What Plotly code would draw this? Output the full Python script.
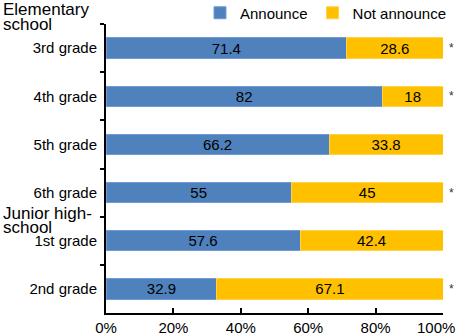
import plotly.graph_objects as go

grades = ["3rd grade", "4th grade", "5th grade", "6th grade", "1st grade", "2nd grade"]
announce = [71.4, 82, 66.2, 55, 57.6, 32.9]
not_announce = [28.6, 18, 33.8, 45, 42.4, 67.1]
significant = [True, True, False, True, False, True]
x_ticks = [0, 20, 40, 60, 80, 100]
x_tick_labels = ["0%", "20%", "40%", "60%", "80%", "100%"]
group_labels = [("Elementary", 9), ("school", 24), ("Junior high-", 213), ("school", 228)]

FONT = "Liberation Sans, Arial, sans-serif"
BLUE = "#4F81BD"
YELLOW = "#FFC000"

W, H = 458, 336
L, R, T, B = 106, 15, 24, 23
PW, PH = W - L - R, H - T - B

def px_x(px):
    return (px - L) / PW

def px_y(py):
    return (H - B - py) / PH

fig = go.Figure()
fig.add_trace(go.Bar(
    y=grades, x=announce, orientation="h", name="Announce",
    marker=dict(color=BLUE, line=dict(color="#6F9BD8", width=1)),
    text=[str(v) for v in announce], textposition="inside", textangle=0,
    insidetextanchor="middle", textfont=dict(color="black", size=15, family=FONT),
))
fig.add_trace(go.Bar(
    y=grades, x=not_announce, orientation="h", name="Not announce",
    marker=dict(color=YELLOW, line=dict(color="#FFD24D", width=1)),
    text=[str(v) for v in not_announce], textposition="inside", textangle=0,
    insidetextanchor="middle", textfont=dict(color="black", size=15, family=FONT),
))

for g, s in zip(grades, significant):
    if s:
        fig.add_annotation(x=1.0, xref="paper", xshift=8, y=g, yref="y",
                           text="*", showarrow=False, xanchor="center",
                           font=dict(size=12, color="#333333", family=FONT))

for txt, ypx in group_labels:
    fig.add_annotation(x=px_x(1), y=px_y(ypx), xref="paper", yref="paper",
                       xanchor="left", yanchor="middle",
                       text=txt, showarrow=False, align="left",
                       font=dict(size=17, color="black", family=FONT))

# last tick label drawn right-aligned so it stays inside the picture
tick_text_shown = x_tick_labels[:-1] + [""]
fig.add_annotation(x=x_ticks[-1], xref="x", xanchor="right", xshift=14,
                   y=px_y(327), yref="paper", yanchor="middle",
                   text=x_tick_labels[-1], showarrow=False,
                   font=dict(size=15, color="black", family=FONT))

fig.update_layout(
    width=W, height=H,
    barmode="stack", bargap=0.58,
    plot_bgcolor="white", paper_bgcolor="white",
    margin=dict(l=L, r=R, t=T, b=B, pad=0, autoexpand=False),
    font=dict(family=FONT, size=15, color="black"),
    uniformtext=dict(minsize=15, mode="show"),
    legend=dict(orientation="h", x=px_x(200), xanchor="left", y=px_y(13), yanchor="middle",
                font=dict(size=15, family=FONT), traceorder="normal",
                bgcolor="rgba(0,0,0,0)", itemwidth=30),
    showlegend=True,
)
fig.update_xaxes(range=[0, 100], tickvals=x_ticks, ticktext=tick_text_shown,
                 ticks="inside", ticklen=5, tickwidth=2, tickcolor="black",
                 showline=True, linecolor="black", linewidth=2, showgrid=False,
                 zeroline=False, tickfont=dict(size=15, family=FONT),
                 ticklabeloverflow="allow")
fig.update_yaxes(autorange="reversed", ticks="outside", tickson="boundaries",
                 ticklen=4, tickwidth=2, tickcolor="black",
                 showline=True, linecolor="black", linewidth=2, showgrid=False,
                 tickfont=dict(size=15, family=FONT), ticklabelstandoff=4)

fig.write_html("out.html", config={"displayModeBar": False},
               post_script="document.body.style.margin='0';document.body.style.overflow='hidden';")
